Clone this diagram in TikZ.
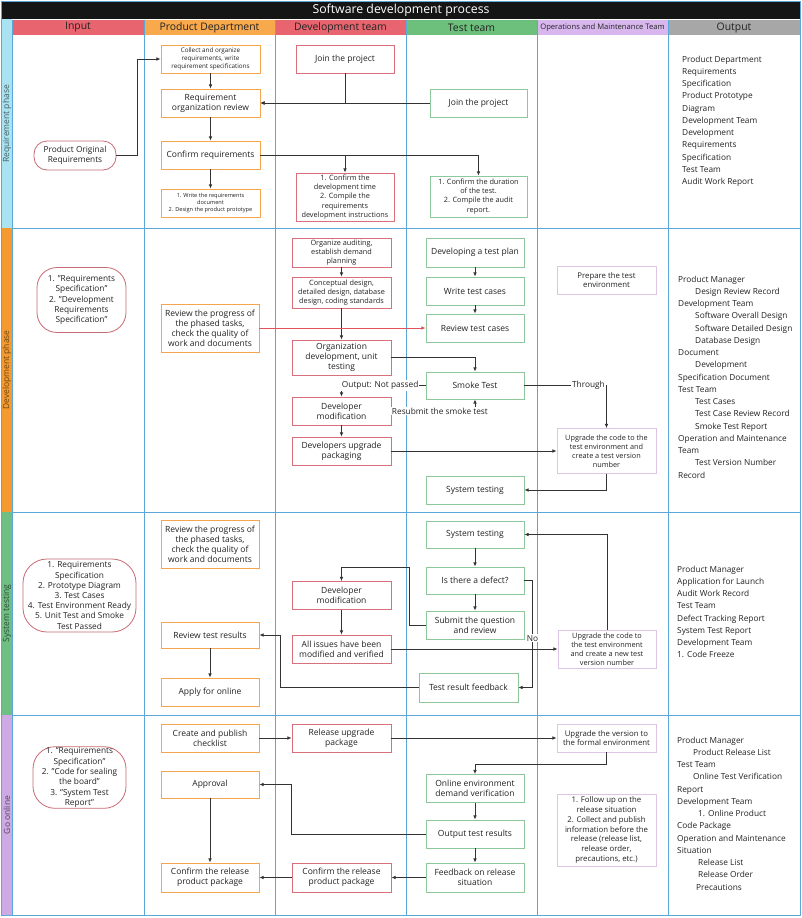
\documentclass[tikz,border=0pt]{standalone}
\usepackage{fontspec}
\setmainfont{Open Sans}
\usetikzlibrary{arrows.meta,positioning}
\newcommand{\fsz}[2]{\fontsize{#1}{#2}\selectfont}
\definecolor{titlebk}{HTML}{151515}
\definecolor{gridblue}{HTML}{5AA8DA}
\definecolor{hdrred}{HTML}{E8656F}
\definecolor{hdrorange}{HTML}{F8A94C}
\definecolor{hdrgreen}{HTML}{6CC07C}
\definecolor{hdrlav}{HTML}{D8B6EE}
\definecolor{hdrgray}{HTML}{A7A7A7}
\definecolor{phreq}{HTML}{A9E3F2}
\definecolor{phdev}{HTML}{F59A2E}
\definecolor{phsys}{HTML}{6FBE84}
\definecolor{phgo}{HTML}{CDAAE3}
\definecolor{bdorange}{HTML}{F4A64E}
\definecolor{bdred}{HTML}{D7707A}
\definecolor{bdgreen}{HTML}{8DC79B}
\definecolor{bdlav}{HTML}{DCC5E5}
\definecolor{inred}{HTML}{C86A73}
\definecolor{txt}{HTML}{222222}
\definecolor{linegray}{HTML}{333333}
\definecolor{redline}{HTML}{E0525C}
\tikzset{
  >={Latex[length=4.2pt,width=3.6pt]},
  bx/.style={draw,fill=white,line width=0.8pt,align=center,text=txt,
    font=\fsz{8.5}{10},inner sep=1pt,minimum width=99pt,minimum height=28pt},
  pdbox/.style={bx,draw=bdorange},
  dtbox/.style={bx,draw=bdred},
  ttbox/.style={bx,draw=bdgreen},
  ombox/.style={bx,draw=bdlav},
  inbox/.style={bx,draw=inred,rounded corners=#1},
  inbox/.default=20pt,
  fmid/.style={font=\fsz{7.8}{9.8}},
  fsmall/.style={font=\fsz{7.3}{9.1}},
  ftiny/.style={font=\fsz{6.3}{8}},
  fdoc/.style={font=\fsz{5.6}{7}},
  flow/.style={->,draw=linegray,line width=0.75pt},
  redflow/.style={flow,draw=redline},
  flowlbl/.style={font=\fsz{8.3}{10},fill=white,inner sep=1pt,text=txt},
  outtxt/.style={anchor=north west,align=left,inner sep=0pt,
    font=\fsz{8.3}{12.25},text=txt},
  hdr/.style={text=txt},
  phlbl/.style={rotate=90,font=\fsz{8.5}{10}},
  gridln/.style={draw=gridblue,line width=1pt},
}
\begin{document}
\begin{tikzpicture}[x=1pt,y=-1pt]
  \fill[white] (0,0) rectangle (802,918);
  \useasboundingbox (0,0) rectangle (802,918);
  % title and lane headers
  \fill[titlebk] (1,1) rectangle (801,19);
  \node[font=\fsz{12.3}{14},text=white] (title) at (401,10) {Software development process};
  \foreach \xa/\xb/\col/\lbl/\sz in {12/144/hdrred/Input/10.4,
      144/275/hdrorange/Product Department/10.4,
      275/406/hdrred/Development team/10.4,
      406/537/hdrgreen/Test team/10.4,
      537/668/hdrlav/Operations and Maintenance Team/7.6,
      668/800/hdrgray/Output/10.4}{
    \fill[\col] (\xa,20) rectangle (\xb,35);
    \node[hdr,font=\fsz{\sz}{12}] (hd\xa) at ({(\xa+\xb)/2},27.5) {\lbl};
  }
  % phase strips
  \fill[phreq] (2,19) rectangle (12,228);
  \fill[phdev] (2,228) rectangle (12,512);
  \fill[phsys] (2,512) rectangle (12,715);
  \fill[phgo] (2,715) rectangle (12,915);
  \node[phlbl,text=phreq!40!black] (lblreq) at (7,124) {Requirement phase};
  \node[phlbl,text=phdev!45!black] (lbldev) at (7,370) {Development phase};
  \node[phlbl,text=phsys!40!black] (lblsys) at (7,613.5) {System testing};
  \node[phlbl,text=phgo!40!black] (lblgo) at (7,815) {Go online};
  % grid
  \foreach \xg in {12,144,275,406,537,668,800}
    \draw[gridln] (\xg,20) -- (\xg,915);
  \foreach \yg in {228,512,715}
    \draw[gridln] (12,\yg) -- (800,\yg);
  \draw[gridln] (1.5,1) rectangle (800.5,915.5);

  % requirement phase
  \node[pdbox,ftiny] (collect) at (210.5,59) {Collect and organize\\requirements, write\\requirement specifications};
  \node[dtbox,minimum width=98pt] (devjoin) at (345,59) {Join the project};
  \node[pdbox] (reqrev) at (210.5,103) {Requirement\\organization review};
  \node[ttbox,minimum width=97pt] (testjoin) at (478.5,103) {Join the project};
  \node[inbox=13pt,minimum width=82pt,minimum height=29pt,font=\fsz{8.3}{10}] (prodreq) at (75,155.5) {Product Original\\Requirements};
  \node[pdbox] (confirm) at (210.5,155) {Confirm requirements};
  \node[pdbox,fdoc] (writedoc) at (210.5,203) {1. Write the requirements\\document\\2. Design the product prototype};
  \node[dtbox,fsmall,minimum width=98pt,minimum height=48pt] (devtime) at (345,197) {1. Confirm the\\development time\\2. Compile the\\requirements\\development instructions};
  \node[ttbox,fsmall,minimum width=97pt,minimum height=41pt] (testdur) at (478.5,196.5) {1. Confirm the duration\\of the test.\\2. Compile the audit\\report.};
  \node[outtxt] (outreq) at (682,55.7) {Product Department\\Requirements\\Specification\\Product Prototype\\Diagram\\Development Team\\Development\\Requirements\\Specification\\Test Team\\Audit Work Report};

  \draw[flow] (prodreq.east) -- ++(21,0) |- (collect.west);
  \draw[flow] (collect) -- (reqrev);
  \draw[flow] (devjoin.south) |- (reqrev.east);
  \draw[flow] (testjoin.west) -- (reqrev.east);
  \draw[flow] (reqrev) -- (confirm);
  \draw[flow] (confirm) -- (writedoc);
  \draw[flow] (confirm.east) -| (testdur.north);
  \draw[flow] (confirm.east) -| (devtime.north);

  % development phase
  \node[inbox,minimum width=89pt,minimum height=65pt,font=\fsz{8.3}{10.4}] (devin) at (81.5,300) {1. "Requirements\\Specification"\\2. "Development\\Requirements\\Specification"};
  \node[pdbox,minimum width=98pt,minimum height=48pt] (prog1) at (210,328) {Review the progress of\\the phased tasks,\\check the quality of\\work and documents};
  \node[dtbox,fsmall,minimum height=29pt] (audit) at (341.5,252.5) {Organize auditing,\\establish demand\\planning};
  \node[dtbox,fsmall,minimum height=31pt] (concept) at (341.5,292.5) {Conceptual design,\\detailed design, database\\design, coding standards};
  \node[dtbox,minimum height=35pt] (orgdev) at (341.5,357.5) {Organization\\development, unit\\testing};
  \node[dtbox] (devmod1) at (341.5,411) {Developer\\modification};
  \node[dtbox] (devpack) at (341.5,451) {Developers upgrade\\packaging};
  \node[ttbox,minimum width=98pt,minimum height=29pt] (testplan) at (475,252.5) {Developing a test plan};
  \node[ttbox,minimum width=98pt] (writecase) at (475,291) {Write test cases};
  \node[ttbox,minimum width=98pt] (reviewcase) at (475,328) {Review test cases};
  \node[ttbox,minimum width=98pt,minimum height=27pt] (smoke) at (475,385.5) {Smoke Test};
  \node[ttbox,minimum width=98pt] (systest1) at (475,490) {System testing};
  \node[ombox,fmid] (prepenv) at (606.5,280) {Prepare the test\\environment};
  \node[ombox,fsmall,minimum height=45pt] (upg1) at (606.5,451) {Upgrade the code to the\\test environment and\\create a test version\\number};
  \node[outtxt] (outdev) at (678,275.7) {Product Manager\\
    \hspace*{17pt}Design Review Record\\
    Development Team\\
    \hspace*{17pt}Software Overall Design\\
    \hspace*{17pt}Software Detailed Design\\
    \hspace*{17pt}Database Design\\
    Document\\
    \hspace*{17pt}Development\\
    Specification Document\\
    Test Team\\
    \hspace*{17pt}Test Cases\\
    \hspace*{17pt}Test Case Review Record\\
    \hspace*{17pt}Smoke Test Report\\
    Operation and Maintenance\\
    Team\\
    \hspace*{17pt}Test Version Number\\
    Record};

  \draw[flow] (audit) -- (concept);
  \draw[flow] (concept) -- (orgdev);
  \draw[redflow] (prog1.east) -- (reviewcase.west);
  \draw[flow] (orgdev.east) -| (smoke.north);
  \draw[flow] (smoke.west) -| node[flowlbl,pos=0.27] (lblfail) {Output: Not passed} (devmod1.north);
  \draw[flow] (devmod1.east) -| node[flowlbl,pos=0.29] (lblresub) {Resubmit the smoke test} (smoke.south);
  \draw[flow] (smoke.east) -| node[flowlbl,pos=0.39] (lblpass) {Through} (upg1.north);
  \draw[flow] (devpack.east) -- (upg1.west);
  \draw[flow] (upg1.south) |- (systest1.east);
  \draw[flow] (devmod1) -- (devpack);
  \draw[flow] (testplan) -- (writecase);
  \draw[flow] (writecase) -- (reviewcase);

  % system testing
  \node[inbox=24pt,minimum width=113pt,minimum height=73pt,font=\fsz{8.3}{10.2}] (sysin) at (79.5,595.5) {1. Requirements\\Specification\\2. Prototype Diagram\\3. Test Cases\\4. Test Environment Ready\\5. Unit Test and Smoke\\Test Passed};
  \node[pdbox,minimum width=98pt,minimum height=48pt] (prog2) at (210,544) {Review the progress of\\the phased tasks,\\check the quality of\\work and documents};
  \node[pdbox,minimum width=98pt,minimum height=26pt] (reviewres) at (210,635) {Review test results};
  \node[pdbox,minimum width=98pt] (apply) at (210,692) {Apply for online};
  \node[dtbox] (devmod2) at (341.5,595.5) {Developer\\modification};
  \node[dtbox] (allfixed) at (341.5,649) {All issues have been\\modified and verified};
  \node[ttbox,minimum width=98pt,minimum height=27pt] (systest2) at (475,534.5) {System testing};
  \node[ttbox,minimum width=98pt,minimum height=27pt] (defect) at (475,580.5) {Is there a defect?};
  \node[ttbox,minimum width=98pt] (submit) at (475,625) {Submit the question\\and review};
  \node[ttbox,minimum height=29pt] (feedback) at (468.5,687.5) {Test result feedback};
  \node[ombox,fsmall,minimum width=98pt,minimum height=38pt] (upg2) at (607,649) {Upgrade the code to\\the test environment\\and create a new test\\version number};
  \node[outtxt] (outsys) at (677,565.7) {Product Manager\\Application for Launch\\Audit Work Record\\Test Team\\Defect Tracking Report\\System Test Report\\Development Team\\1. Code Freeze};

  \draw[flow] (systest2) -- (defect);
  \draw[flow] (defect) -- (submit);
  \draw[flow] (submit.west) -- ++(-16,0) -- ++(0,-58) -| (devmod2.north);
  \draw[flow] (devmod2) -- (allfixed);
  \draw[flow] (allfixed.east) -- (upg2.west);
  \draw[flow] (upg2.north) |- (systest2.east);
  \draw[flow] (defect.east) -- ++(8,0) |- node[flowlbl,pos=0.27] (lblno) {No} (feedback.east);
  \draw[flow] (feedback.west) -- ++(-138,0) |- (reviewres.east);
  \draw[flow] (reviewres) -- (apply);

  % go online
  \node[inbox=22pt,minimum width=93pt,minimum height=61pt,font=\fsz{8.3}{10.3}] (goin) at (79.5,777.5) {1. "Requirements\\Specification"\\2. "Code for sealing\\the board"\\3. "System Test\\Report"};
  \node[pdbox,minimum width=98pt] (checklist) at (210,738) {Create and publish\\checklist};
  \node[pdbox,minimum width=98pt,minimum height=27pt] (approval) at (210,784.5) {Approval};
  \node[pdbox,minimum width=98pt,minimum height=29pt] (confrel1) at (210,877.5) {Confirm the release\\product package};
  \node[dtbox] (relpkg) at (341.5,738) {Release upgrade\\package};
  \node[dtbox,minimum height=29pt] (confrel2) at (341.5,877.5) {Confirm the release\\product package};
  \node[ombox,fmid] (upgver) at (606.5,738) {Upgrade the version to\\the formal environment};
  \node[ttbox,minimum width=98pt] (onlineenv) at (475,788.5) {Online environment\\demand verification};
  \node[ttbox,minimum width=98pt] (outres) at (475,834) {Output test results};
  \node[ttbox,minimum width=98pt,minimum height=29pt] (fbrel) at (475,877.5) {Feedback on release\\situation};
  \node[ombox,fmid,minimum height=72pt] (followup) at (606.5,830) {1. Follow up on the\\release situation\\2. Collect and publish\\information before the\\release (release list,\\release order,\\precautions, etc.)};
  \node[outtxt] (outgo) at (677,736.7) {Product Manager\\
    \hspace*{16pt}Product Release List\\
    Test Team\\
    \hspace*{16pt}Online Test Verification\\
    Report\\
    Development Team\\
    \hspace*{21pt}1. Online Product\\
    Code Package\\
    Operation and Maintenance\\
    Situation\\
    \hspace*{21pt}Release List\\
    \hspace*{21pt}Release Order\\
    \hspace*{19pt}Precautions};

  \draw[flow] (checklist) -- (relpkg);
  \draw[flow] (relpkg) -- (upgver);
  \draw[flow] (upgver.south) -- ++(0,12) -| (onlineenv.north);
  \draw[flow] (onlineenv) -- (outres);
  \draw[flow] (outres) -- (fbrel);
  \draw[flow] (outres.west) -- ++(-134,0) |- (approval.east);
  \draw[flow] (fbrel) -- (confrel2);
  \draw[flow] (confrel2) -- (confrel1);
  \draw[flow] (approval) -- (confrel1);
\end{tikzpicture}
\end{document}
